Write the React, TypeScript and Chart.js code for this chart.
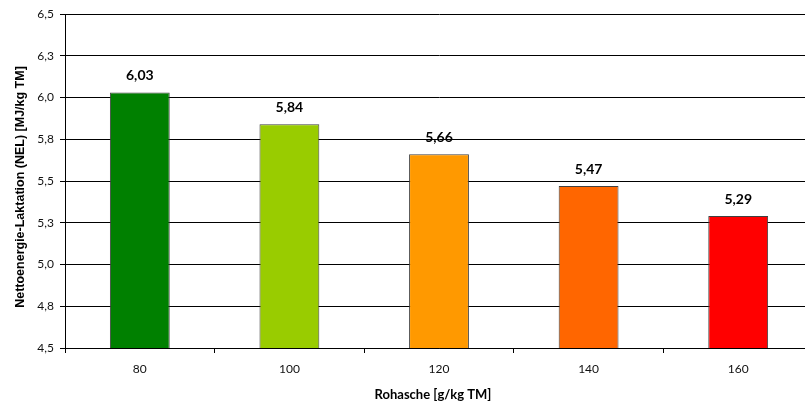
import React, { useEffect, useRef } from "react";
import { Chart, registerables } from "chart.js";

Chart.register(...registerables);

const categories = ["80", "100", "120", "140", "160"];
const values = [6.03, 5.84, 5.66, 5.47, 5.29];
const barColors = ["#008000", "#99CC00", "#FF9900", "#FF6600", "#FF0000"];
const yTicks = [4.5, 4.75, 5.0, 5.25, 5.5, 5.75, 6.0, 6.25, 6.5];
const xTitle = "Rohasche [g/kg TM]";
const yTitle = "Nettoenergie-Laktation (NEL) [MJ/kg TM]";

const FONT = "Lato, 'Open Sans', sans-serif";
const TITLE_FONT = "'Liberation Sans', Arial, sans-serif";

const fmt = (v: number, d: number) =>
  (Math.round(v * Math.pow(10, d)) / Math.pow(10, d)).toFixed(d).replace(".", ",");

const labelPlugin = {
  id: "barLabels",
  afterDatasetsDraw(chart: any) {
    const ctx = chart.ctx;
    const meta = chart.getDatasetMeta(0);
    ctx.save();
    ctx.font = `bold 14px ${FONT}`;
    ctx.fillStyle = "#000";
    ctx.textAlign = "center";
    ctx.textBaseline = "middle";
    meta.data.forEach((bar: any, i: number) => {
      ctx.fillText(fmt(values[i], 2), bar.x, bar.y - 17);
    });
    ctx.restore();
  },
};

const titlesPlugin = {
  id: "axisTitles",
  afterDraw(chart: any) {
    const ctx = chart.ctx;
    const a = chart.chartArea;
    ctx.save();
    ctx.fillStyle = "#000";
    ctx.textAlign = "center";
    ctx.textBaseline = "middle";
    // y title
    ctx.save();
    ctx.translate(21, (a.top + a.bottom) / 2 + 6);
    ctx.rotate(-Math.PI / 2);
    ctx.font = `bold 12.5px ${TITLE_FONT}`;
    ctx.fillText(yTitle, 0, 0);
    ctx.restore();
    // x title
    ctx.font = `bold 13px ${FONT}`;
    ctx.fillText(xTitle, (a.left + a.right) / 2 - 6, a.bottom + 47);
    ctx.restore();
  },
};

export default function App() {
  const ref = useRef<HTMLCanvasElement>(null);
  useEffect(() => {
    if (!ref.current) return;
    const chart = new Chart(ref.current, {
      type: "bar",
      data: {
        labels: categories,
        datasets: [
          {
            data: values,
            backgroundColor: barColors,
            borderColor: "#404040",
            borderWidth: 1,
            barPercentage: 0.4,
            categoryPercentage: 1,
          },
        ],
      },
      options: {
        animation: false,
        responsive: true,
        maintainAspectRatio: false,
        layout: { padding: { left: 0, right: 0, top: 14, bottom: 0 } },
        plugins: { legend: { display: false }, tooltip: { enabled: false } },
        scales: {
          x: {
            offset: true,
            grid: {
              display: true,
              drawOnChartArea: false,
              drawTicks: true,
              tickLength: 5,
              color: "#000",
              offset: true,
            },
            border: { display: true, color: "#000", width: 1 },
            ticks: { color: "#111", font: { family: FONT, size: 12 }, padding: 9 },
            title: { display: false },
            afterFit: (s: any) => {
              s.height = 56;
            },
          },
          y: {
            min: 4.5,
            max: 6.5,
            afterBuildTicks: (s: any) => {
              s.ticks = yTicks.map((v) => ({ value: v }));
            },
            grid: { color: "#000", lineWidth: 1, tickLength: 5, drawTicks: true },
            border: { display: true, color: "#000", width: 1 },
            ticks: {
              color: "#111",
              font: { family: FONT, size: 12 },
              padding: 6,
              callback: (v: any) => fmt(Number(v), 1),
            },
            title: { display: false },
            afterFit: (s: any) => {
              s.width = 65;
            },
          },
        },
      },
      plugins: [labelPlugin, titlesPlugin],
    });
    return () => chart.destroy();
  }, []);
  return (
    <div
      style={{
        position: "fixed",
        left: 0,
        top: 0,
        width: 805,
        height: 404,
        overflow: "hidden",
        background: "#fff",
      }}
    >
      <div style={{ position: "absolute", left: 0, top: 0, width: 813, height: 404 }}>
        <canvas ref={ref} />
      </div>
    </div>
  );
}
